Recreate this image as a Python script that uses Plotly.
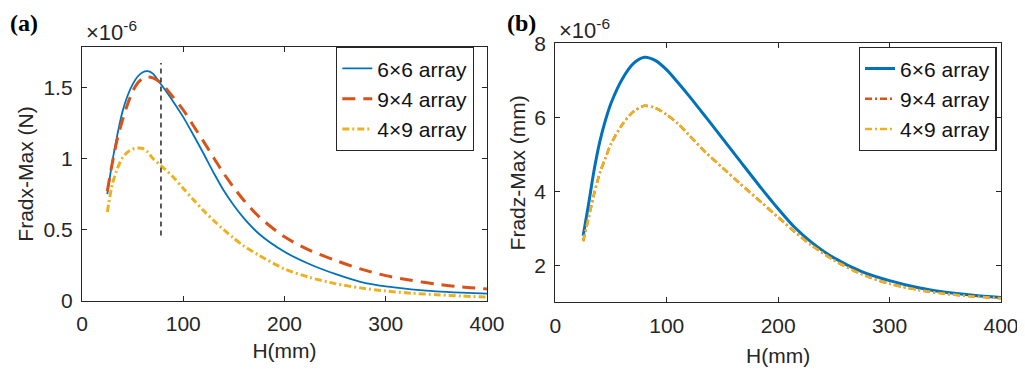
import plotly.graph_objects as go

# ---------------- data (values in units of 1e-6) ----------------
series_names = ["6×6 array", "9×4 array", "4×9 array"]

h_a = [25, 30, 35, 40, 45, 50, 55, 60, 65, 70, 78, 90, 100, 110, 120, 130, 140,
       150, 160, 175, 200, 225, 250, 275, 300, 325, 350, 375, 400]
fx_6x6 = [0.75, 0.98, 1.17, 1.33, 1.44, 1.52, 1.575, 1.605, 1.612, 1.595, 1.52, 1.40,
          1.29, 1.165, 1.035, 0.90, 0.775, 0.67, 0.58, 0.47, 0.345, 0.258, 0.19, 0.135,
          0.102, 0.082, 0.068, 0.059, 0.052]
fx_9x4 = [0.77, 0.97, 1.14, 1.27, 1.38, 1.47, 1.53, 1.56, 1.572, 1.565, 1.53, 1.43,
          1.34, 1.23, 1.12, 1.005, 0.895, 0.795, 0.705, 0.59, 0.45, 0.355, 0.286, 0.225,
          0.178, 0.145, 0.118, 0.098, 0.085]
fx_4x9 = [0.625, 0.82, 0.93, 1.005, 1.045, 1.066, 1.074, 1.07, 1.045, 1.0, 0.95, 0.87,
          0.79, 0.71, 0.635, 0.565, 0.50, 0.44, 0.385, 0.32, 0.225, 0.165, 0.122, 0.092,
          0.07, 0.055, 0.044, 0.035, 0.028]
marker_h = [78, 78]
marker_y = [0.46, 1.67]

h_b = [25, 30, 35, 40, 45, 50, 60, 70, 80, 90, 100, 110, 120, 135, 150, 165, 185,
       200, 215, 230, 250, 275, 300, 325, 350, 375, 400]
fz_6x6 = [2.8, 3.68, 4.6, 5.35, 5.92, 6.38, 7.03, 7.45, 7.62, 7.53, 7.28, 6.94, 6.58,
          6.01, 5.43, 4.85, 4.08, 3.53, 3.02, 2.62, 2.2, 1.83, 1.585, 1.40, 1.27, 1.19, 1.13]
fz_4x9 = [2.65, 3.3, 3.95, 4.5, 4.9, 5.28, 5.8, 6.15, 6.31, 6.25, 6.07, 5.83, 5.52,
          5.05, 4.64, 4.23, 3.7, 3.3, 2.9, 2.54, 2.14, 1.76, 1.50, 1.34, 1.23, 1.16, 1.11]
fz_9x4 = list(fz_4x9)  # coincides with 4x9 curve (hidden beneath it)

x_ticks = [0, 100, 200, 300, 400]
ya_ticks = [0, 0.5, 1, 1.5]
ya_text = ["0", "0.5", "1", "1.5"]
yb_ticks = [2, 4, 6, 8]

# ---------------- geometry helpers (page has an 8px body margin) ----------------
W, H, OFF = 1017, 365, 8


def px(sx):
    return (sx - OFF) / W


def py(sy):
    return 1 - (sy - OFF) / H


# ---------------- style ----------------
BLUE, RED, YEL = "#0072BD", "#D95319", "#EDB120"
AX = "#262626"
FONT = "Liberation Sans, Arial, Helvetica, sans-serif"
FS = 21
YDASH = "7px,3px,2px,3px"

fig = go.Figure()

# panel (a)
fig.add_trace(go.Scatter(x=h_a, y=fx_6x6, name=series_names[0], mode="lines",
                         line=dict(color=BLUE, width=1.8, shape="spline", smoothing=0.8),
                         xaxis="x", yaxis="y", legend="legend"))
fig.add_trace(go.Scatter(x=h_a, y=fx_9x4, name=series_names[1], mode="lines",
                         line=dict(color=RED, width=3, dash="13px,8px", shape="spline", smoothing=0.8),
                         xaxis="x", yaxis="y", legend="legend"))
fig.add_trace(go.Scatter(x=h_a, y=fx_4x9, name=series_names[2], mode="lines",
                         line=dict(color=YEL, width=3, dash=YDASH, shape="spline", smoothing=0.8),
                         xaxis="x", yaxis="y", legend="legend"))
fig.add_trace(go.Scatter(x=marker_h, y=marker_y, mode="lines", showlegend=False,
                         line=dict(color=AX, width=1.5, dash="5px,4px"),
                         xaxis="x", yaxis="y", hoverinfo="skip"))

# panel (b)
fig.add_trace(go.Scatter(x=h_b, y=fz_6x6, name=series_names[0], mode="lines",
                         line=dict(color=BLUE, width=3, shape="spline", smoothing=0.8),
                         xaxis="x2", yaxis="y2", legend="legend2"))
fig.add_trace(go.Scatter(x=h_b, y=fz_9x4, name=series_names[1], mode="lines",
                         line=dict(color=RED, width=2.5, dash=YDASH, shape="spline", smoothing=0.8),
                         xaxis="x2", yaxis="y2", legend="legend2"))
fig.add_trace(go.Scatter(x=h_b, y=fz_4x9, name=series_names[2], mode="lines",
                         line=dict(color=YEL, width=2.5, dash=YDASH, shape="spline", smoothing=0.8),
                         xaxis="x2", yaxis="y2", legend="legend2"))

axis_common = dict(showline=True, linecolor=AX, linewidth=1.3, mirror="ticks",
                   ticks="inside", ticklen=5, tickwidth=1.3, tickcolor=AX,
                   showgrid=False, zeroline=False, automargin=False,
                   tickfont=dict(family=FONT, size=FS, color=AX))

legend_common = dict(bgcolor="white", bordercolor=AX, borderwidth=1.3,
                     font=dict(family=FONT, size=FS, color="#111111"),
                     xanchor="left", yanchor="top", itemwidth=30,
                     tracegroupgap=0)

fig.update_layout(
    width=W, height=H,
    margin=dict(l=0, r=0, t=0, b=0, autoexpand=False),
    paper_bgcolor="white", plot_bgcolor="white",
    font=dict(family=FONT, size=FS, color=AX),
    xaxis=dict(domain=[px(82), px(487)], range=[0, 400], tickvals=x_ticks,
               ticklabelstandoff=4,
               title=dict(text="H(mm)", standoff=8, font=dict(family=FONT, size=FS, color=AX)),
               anchor="y", **axis_common),
    yaxis=dict(domain=[py(301), py(47)], range=[0, 1.782], tickvals=ya_ticks, ticktext=ya_text,
               ticklabelstandoff=4,
               title=dict(text="Fradx-Max (N)", standoff=4, font=dict(family=FONT, size=FS, color=AX)),
               anchor="x", **axis_common),
    xaxis2=dict(domain=[px(555.3), px(1001)], range=[0, 400], tickvals=x_ticks,
                ticklabelstandoff=4,
                title=dict(text="H(mm)", standoff=12, font=dict(family=FONT, size=FS, color=AX)),
                anchor="y2", **axis_common),
    yaxis2=dict(domain=[py(302.3), py(43.3)], range=[1, 8], tickvals=yb_ticks,
                ticklabelstandoff=4,
                title=dict(text="Fradz-Max (mm)", standoff=2, font=dict(family=FONT, size=FS, color=AX)),
                anchor="x2", **axis_common),
    legend=dict(x=px(336), y=py(47), **legend_common),
    legend2=dict(x=px(858.7), y=py(47), **legend_common),
    showlegend=True,
)

annots = [
    dict(text="<b>(a)</b>", x=0, y=1, xanchor="left", yanchor="top",
         font=dict(family="Liberation Serif, Times New Roman, serif", size=24, color="#000000")),
    dict(text="<b>(b)</b>", x=px(505), y=1, xanchor="left", yanchor="top",
         font=dict(family="Liberation Serif, Times New Roman, serif", size=24, color="#000000")),
    dict(text="×10<sup>-6</sup>", x=px(84), y=py(31), xanchor="left", yanchor="middle",
         font=dict(family=FONT, size=22, color=AX)),
    dict(text="×10<sup>-6</sup>", x=px(557), y=py(29), xanchor="left", yanchor="middle",
         font=dict(family=FONT, size=22, color=AX)),
]
for a in annots:
    fig.add_annotation(xref="paper", yref="paper", showarrow=False, **a)

fig.write_html("out.html")
